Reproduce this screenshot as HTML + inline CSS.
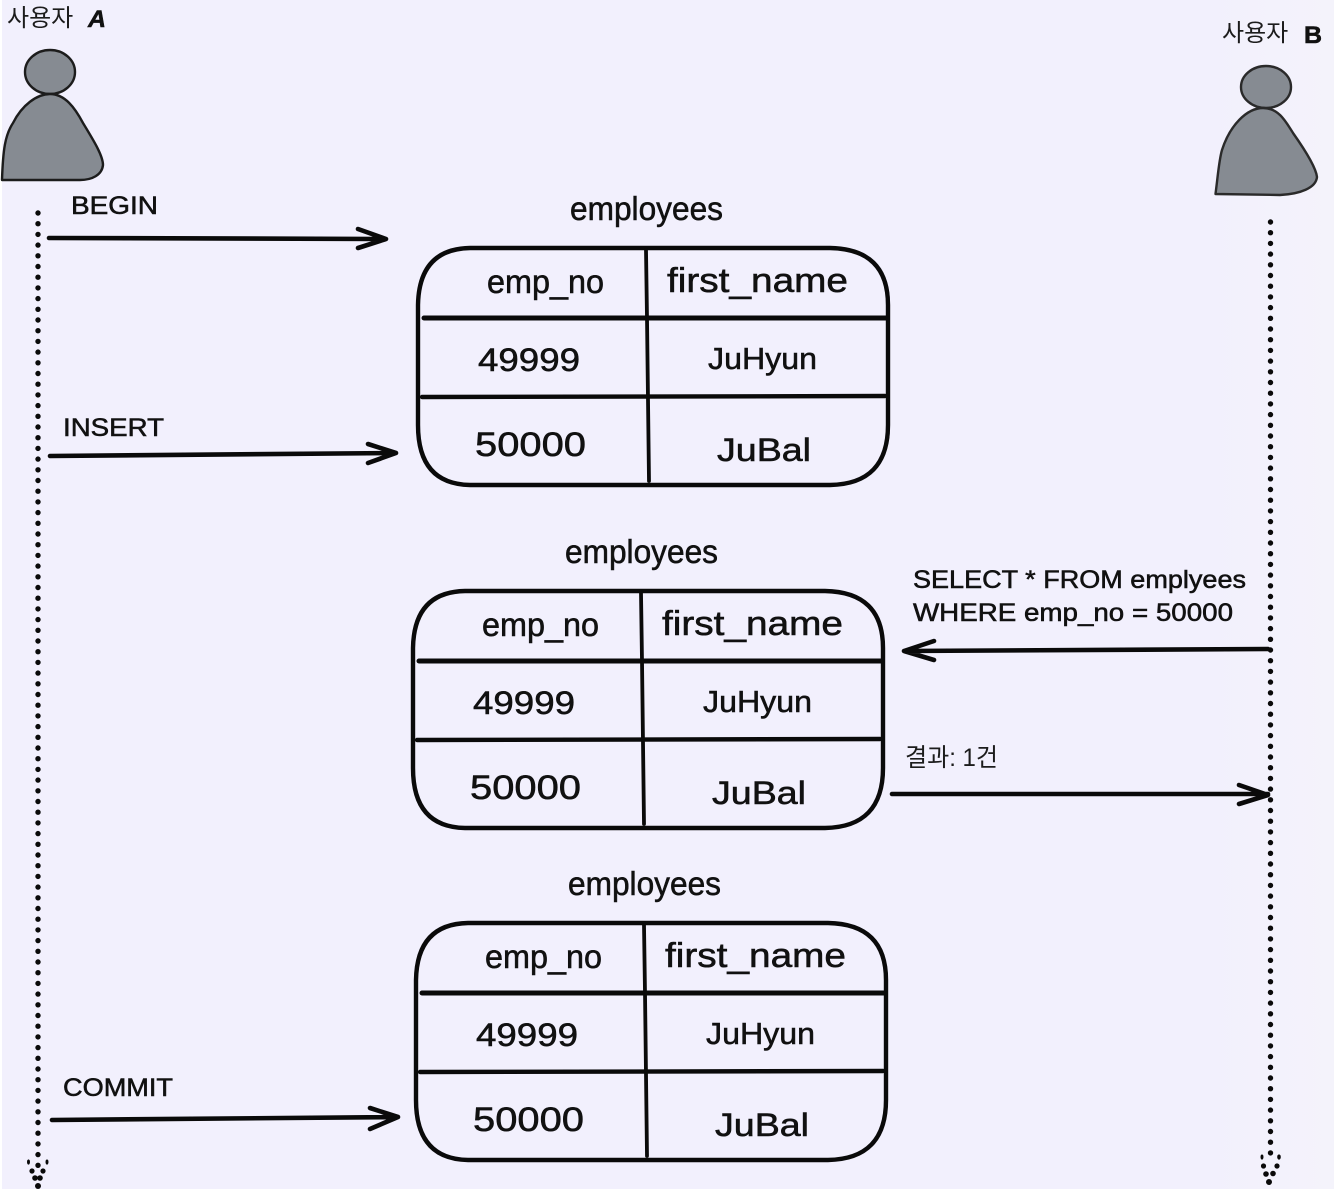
<!DOCTYPE html>
<html lang="ko">
<head>
<meta charset="utf-8">
<style>
html,body{margin:0;padding:0;background:#fff;width:1334px;height:1190px;overflow:hidden}
svg{display:block}
text{font-family:"Liberation Sans","DejaVu Sans",sans-serif;fill:#111;stroke:#111;stroke-width:.55}
.ko{font-family:"Liberation Sans","Noto Sans CJK KR",sans-serif;font-weight:400;fill:#1c1c1c;stroke:none}
.ln{fill:none;stroke:#0a0a0a;stroke-linecap:round;stroke-linejoin:round}
</style>
</head>
<body>
<svg width="1334" height="1190" viewBox="0 0 1334 1190" xmlns="http://www.w3.org/2000/svg">
<defs>
<linearGradient id="bg" x1="0" y1="0" x2="1" y2="0">
<stop offset="0" stop-color="#f2f0fd"/><stop offset="0.9" stop-color="#f2f0fd"/><stop offset="1" stop-color="#f4f3fb"/>
</linearGradient>
<g id="tbl">
<path class="ln" stroke-width="4.4" d="M470 248 L830 248 Q888 249 888 305 L888 425 Q888 484 830 485 L470 485 Q418 484 418 425 L418 305 Q419 249 470 248 Z"/>
<path class="ln" stroke-width="3.8" d="M646 250 L647 318 L649 481"/>
<path class="ln" stroke-width="5" d="M424 318 L887 318"/>
<path class="ln" stroke-width="4.4" d="M422 397 L885 396"/>
<text x="570" y="220" font-size="33" textLength="153" lengthAdjust="spacingAndGlyphs">employees</text>
<text x="487" y="293" font-size="33" textLength="117" lengthAdjust="spacingAndGlyphs">emp_no</text>
<text x="667" y="292" font-size="34" textLength="181" lengthAdjust="spacingAndGlyphs">first_name</text>
<text x="478" y="371" font-size="32" textLength="102" lengthAdjust="spacingAndGlyphs">49999</text>
<text x="708" y="369" font-size="31" textLength="109" lengthAdjust="spacingAndGlyphs">JuHyun</text>
<text x="475" y="456" font-size="34" textLength="111" lengthAdjust="spacingAndGlyphs">50000</text>
<text x="717" y="461" font-size="32" textLength="94" lengthAdjust="spacingAndGlyphs">JuBal</text>
</g>
</defs>

<rect x="2" y="0" width="1332" height="1189" fill="url(#bg)"/>

<!-- User A -->
<text class="ko" x="7" y="26" font-size="24">사용자</text>
<text x="88" y="27" font-size="24" font-style="italic" font-weight="bold" textLength="18" lengthAdjust="spacingAndGlyphs">A</text>
<ellipse cx="50" cy="72" rx="25" ry="22" fill="#868b92" stroke="#1c1c1c" stroke-width="2.4"/>
<path d="M2 180 C3 150 5 135 13 123 C22 105 37 94 50 94 C65 94 75 108 83 123 C92 138 103 155 103 165 C102 175 92 180 80 180 Z" fill="#868b92" stroke="#1c1c1c" stroke-width="2.4" stroke-linejoin="round"/>

<!-- User B -->
<text class="ko" x="1222" y="41" font-size="24">사용자</text>
<text x="1304" y="43" font-size="24" font-weight="bold" textLength="18" lengthAdjust="spacingAndGlyphs">B</text>
<ellipse cx="1266" cy="87" rx="25" ry="21" fill="#868b92" stroke="#2a2a2a" stroke-width="2.4"/>
<path d="M1215.5 194 C1218 175 1219 160 1222 150 C1230 125 1247 108 1263 108 C1278 108 1285 120 1293 133 C1305 150 1316 168 1317 177 C1316 188 1300 194 1280 195 Z" fill="#868b92" stroke="#2a2a2a" stroke-width="2.4" stroke-linejoin="round"/>

<!-- Lifelines -->
<path class="ln" stroke-width="5.4" stroke-dasharray="0 10.7" d="M38 213 L38 1166"/>
<path class="ln" stroke-width="5.4" stroke-dasharray="0 10.7" d="M1270.5 222 L1270.5 1163"/>
<g fill="#0a0a0a">
<ellipse cx="28.5" cy="1162" rx="1.5" ry="2.6"/><ellipse cx="47" cy="1162" rx="1.5" ry="2.6"/><circle cx="32" cy="1171" r="2.6"/><circle cx="43" cy="1171" r="2.6"/><circle cx="35" cy="1178" r="2.8"/><circle cx="40" cy="1178" r="2.8"/><circle cx="38" cy="1186" r="3"/>
<ellipse cx="1262" cy="1157" rx="1.5" ry="2.6"/><ellipse cx="1279" cy="1157" rx="1.8" ry="2.6"/><circle cx="1263.5" cy="1166" r="2.6"/><circle cx="1277" cy="1166" r="2.6"/><circle cx="1266" cy="1174" r="2.8"/><circle cx="1273" cy="1173.5" r="2.8"/><circle cx="1269" cy="1182" r="3"/>
</g>

<!-- Tables -->
<use href="#tbl"/>
<use href="#tbl" transform="translate(-5 343)"/>
<use href="#tbl" transform="translate(-2 675)"/>

<!-- Arrows -->
<path class="ln" stroke-width="4.6" d="M49 238 L386 239 M358 229 L386 239 L358 248"/>
<path class="ln" stroke-width="4.6" d="M50 456 L396 453 M368 444 L396 453 L368 463"/>
<path class="ln" stroke-width="4.6" d="M1268 649 L904 651 M934 641 L904 651 L934 660"/>
<path class="ln" stroke-width="4.6" d="M892 794 L1268 794 M1239 785 L1268 795 L1239 804"/>
<path class="ln" stroke-width="4.6" d="M52 1120 L398 1117 M370 1108 L398 1117 L370 1129"/>

<!-- Arrow labels -->
<text x="71" y="214" font-size="25" textLength="87" lengthAdjust="spacingAndGlyphs">BEGIN</text>
<text x="63" y="436" font-size="25" textLength="101" lengthAdjust="spacingAndGlyphs">INSERT</text>
<text x="63" y="1096" font-size="25" textLength="110" lengthAdjust="spacingAndGlyphs">COMMIT</text>
<text x="913" y="588" font-size="25" textLength="333" lengthAdjust="spacingAndGlyphs">SELECT * FROM emplyees</text>
<text x="913" y="621" font-size="25" textLength="320" lengthAdjust="spacingAndGlyphs">WHERE emp_no = 50000</text>
<text class="ko" x="905" y="766" font-size="25" textLength="93" lengthAdjust="spacingAndGlyphs">결과: 1건</text>
</svg>
</body>
</html>
